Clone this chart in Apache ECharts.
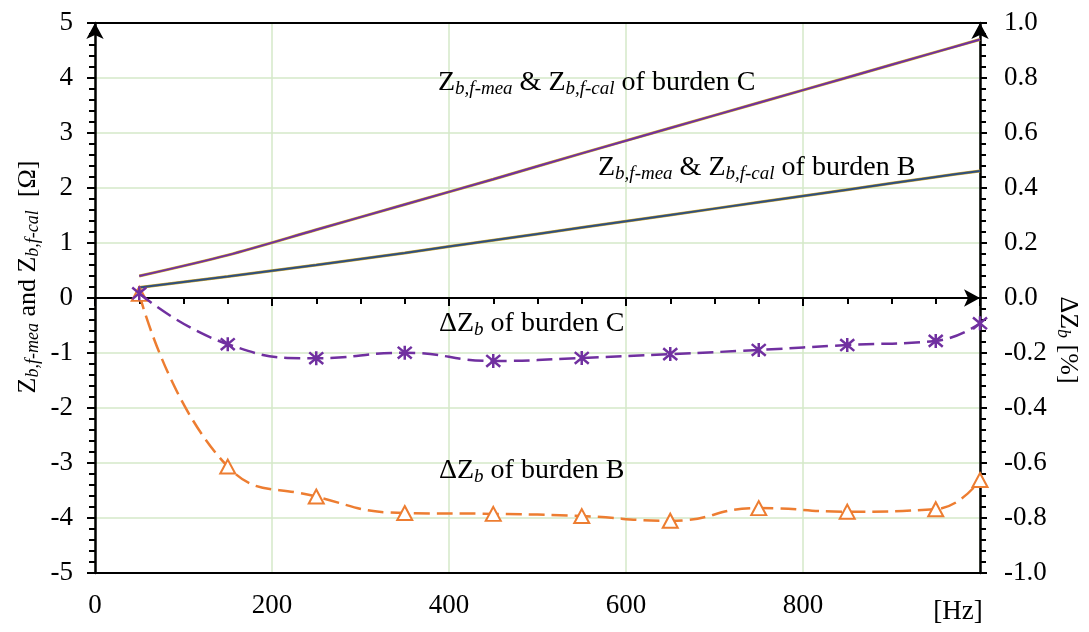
<!DOCTYPE html>
<html>
<head>
<meta charset="utf-8">
<style>
  html, body { margin: 0; padding: 0; background: #fff; }
  #chart { width: 1089px; height: 632px; }
</style>
<script src="https://cdn.jsdelivr.net/npm/echarts@6/dist/echarts.min.js"></script>
</head>
<body>
<div id="chart"></div>
<script>
var freqs = [50, 150, 250, 350, 450, 550, 650, 750, 850, 950, 1000];
// impedance of burden C and B [ohm], measured and calculated overlap
var zMeaC = [0.40, 0.78, 1.24, 1.70, 2.16, 2.63, 3.09, 3.55, 4.01, 4.47, 4.70];
var zCalC = [0.40, 0.78, 1.24, 1.70, 2.16, 2.63, 3.09, 3.55, 4.01, 4.47, 4.70];
var zMeaB = [0.19, 0.39, 0.60, 0.82, 1.05, 1.28, 1.51, 1.74, 1.97, 2.20, 2.31];
var zCalB = [0.19, 0.39, 0.60, 0.82, 1.05, 1.28, 1.51, 1.74, 1.97, 2.20, 2.31];
// deviation [%]
var dZC = [0.017, -0.168, -0.219, -0.199, -0.229, -0.218, -0.204, -0.189, -0.171, -0.156, -0.092];
var dZB = [0.015, -0.613, -0.722, -0.782, -0.785, -0.793, -0.810, -0.764, -0.777, -0.768, -0.662];

(function() {
  var font = 'Liberation Serif';
  var purple = '#7030A0';
  var orange = '#ED7D31';
  var navy = '#2F4F7F';
  var gold = '#C9A227';
  var gridGreen = '#D5E8C8';

  function pairs(ys) {
    return freqs.map(function(f, i) { return [f, ys[i]]; });
  }

  var sub = { fontFamily: font, fontSize: 19, fontStyle: 'italic', verticalAlign: 'bottom', lineHeight: 22 };
  var main = { fontFamily: font, fontSize: 28, lineHeight: 30 };
  var rich = { m: main, s: sub };

  function note(x, y, text) {
    return {
      type: 'text', x: x, y: y, z: 100,
      style: { text: text, rich: rich, fill: '#000', align: 'left', verticalAlign: 'middle', font: '28px "Liberation Serif"' }
    };
  }

  var nameRich = {
    m: { fontFamily: font, fontSize: 26, lineHeight: 28 },
    s: { fontFamily: font, fontSize: 18, fontStyle: 'italic', verticalAlign: 'bottom', lineHeight: 20 }
  };

  var chart = echarts.init(document.getElementById('chart'), null, { renderer: 'canvas' });
  chart.setOption({
    animation: false,
    backgroundColor: '#fff',
    grid: { left: 95, right: 109, top: 23, bottom: 59 },
    xAxis: [
      {
        type: 'value', min: 0, max: 1000, interval: 200, position: 'bottom',
        axisLine: { show: true, onZero: false, lineStyle: { color: '#000', width: 2 } },
        axisTick: { show: false },
        axisLabel: {
          color: '#000', fontFamily: font, fontSize: 27, margin: 19,
          formatter: function(v) { return v === 1000 ? '{hz|[Hz]}' : String(v); },
          rich: { hz: { fontFamily: font, fontSize: 27, padding: [6, 44, 0, 0] } }
        },
        splitLine: { show: true, lineStyle: { color: gridGreen, width: 1.5 } }
      },
      {
        type: 'value', min: 0, max: 1000, interval: 200, position: 'bottom',
        axisLine: { show: true, onZero: true, onZeroAxisIndex: 0, symbol: ['none', 'arrow'], symbolSize: [13, 16], lineStyle: { color: '#000', width: 2 } },
        axisTick: { show: true, length: 8, lineStyle: { color: '#000', width: 2 } },
        minorTick: { show: true, splitNumber: 4, length: 6, lineStyle: { color: '#000', width: 2 } },
        axisLabel: { show: false },
        splitLine: { show: false }
      },
      {
        type: 'value', min: 0, max: 1000, interval: 200, position: 'top',
        axisLine: { show: true, onZero: false, lineStyle: { color: '#000', width: 2 } },
        axisTick: { show: false },
        axisLabel: { show: false },
        splitLine: { show: false }
      }
    ],
    yAxis: [
      {
        type: 'value', min: -5, max: 5, interval: 1, position: 'left',
        axisLine: { show: true, onZero: false, symbol: ['none', 'arrow'], symbolSize: [13, 16], lineStyle: { color: '#000', width: 2.5 } },
        axisTick: { show: true, length: 8, lineStyle: { color: '#000', width: 2 } },
        minorTick: { show: true, splitNumber: 5, length: 6, lineStyle: { color: '#000', width: 2 } },
        axisLabel: { color: '#000', fontFamily: font, fontSize: 27, margin: 22 },
        splitLine: { show: true, lineStyle: { color: gridGreen, width: 1.5 } }
      },
      {
        type: 'value', min: -1, max: 1, interval: 0.2, position: 'right',
        axisLine: { show: true, onZero: false, symbol: ['none', 'arrow'], symbolSize: [13, 16], lineStyle: { color: '#000', width: 2.5 } },
        axisTick: { show: true, length: 7, lineStyle: { color: '#000', width: 2 } },
        minorTick: { show: true, splitNumber: 5, length: 6, lineStyle: { color: '#000', width: 2 } },
        axisLabel: {
          color: '#000', fontFamily: font, fontSize: 27, margin: 24,
          formatter: function(v) { return v.toFixed(1); }
        },
        splitLine: { show: false }
      }
    ],
    series: [
      {
        name: 'Zmea C', type: 'line', xAxisIndex: 0, yAxisIndex: 0, data: pairs(zMeaC),
        smooth: 0.3, showSymbol: false, lineStyle: { color: gold, width: 3 }, z: 3
      },
      {
        name: 'Zcal C', type: 'line', xAxisIndex: 0, yAxisIndex: 0, data: pairs(zCalC),
        smooth: 0.3, showSymbol: false, lineStyle: { color: purple, width: 2 }, z: 4
      },
      {
        name: 'Zmea B', type: 'line', xAxisIndex: 0, yAxisIndex: 0, data: pairs(zMeaB),
        smooth: 0.3, showSymbol: false, lineStyle: { color: gold, width: 3 }, z: 3
      },
      {
        name: 'Zcal B', type: 'line', xAxisIndex: 0, yAxisIndex: 0, data: pairs(zCalB),
        smooth: 0.3, showSymbol: false, lineStyle: { color: navy, width: 2 }, z: 4
      },
      {
        name: 'dZ B', type: 'line', xAxisIndex: 0, yAxisIndex: 1, data: pairs(dZB),
        smooth: 0.5, symbol: 'triangle', symbolSize: [15, 14], z: 5,
        lineStyle: { color: orange, width: 2.5, type: [16, 7] },
        itemStyle: { color: '#fff', borderColor: orange, borderWidth: 2 }
      },
      {
        name: 'dZ C', type: 'line', xAxisIndex: 0, yAxisIndex: 1, data: pairs(dZC),
        smooth: 0.5, symbol: 'path://M0,0L10,10M10,0L0,10M5,-1L5,11', symbolSize: 14, z: 6,
        lineStyle: { color: purple, width: 2.5, type: [16, 7] },
        itemStyle: { color: 'none', borderColor: purple, borderWidth: 2.5 }
      }
    ],
    graphic: [
      note(438, 83, '{m|Z}{s|b,f-mea}{m| & Z}{s|b,f-cal}{m| of burden C}'),
      note(598, 168, '{m|Z}{s|b,f-mea}{m| & Z}{s|b,f-cal}{m| of burden B}'),
      note(439, 324, '{m|ΔZ}{s|b}{m| of burden C}'),
      note(439, 471, '{m|ΔZ}{s|b}{m| of burden B}'),
      {
        type: 'text', x: 28, y: 277, rotation: Math.PI / 2, z: 100,
        style: { text: '{m|Z}{s|b,f-mea}{m| and Z}{s|b,f-cal}{m|  [Ω]}', rich: nameRich, fill: '#000', align: 'center', verticalAlign: 'middle' }
      },
      {
        type: 'text', x: 1068, y: 340, rotation: -Math.PI / 2, z: 100,
        style: { text: '{m|ΔZ}{s|b}{m| [%]}', rich: nameRich, fill: '#000', align: 'center', verticalAlign: 'middle' }
      }
    ]
  });
  window.addEventListener('resize', function() { chart.resize(); });
})();
</script>
</body>
</html>
